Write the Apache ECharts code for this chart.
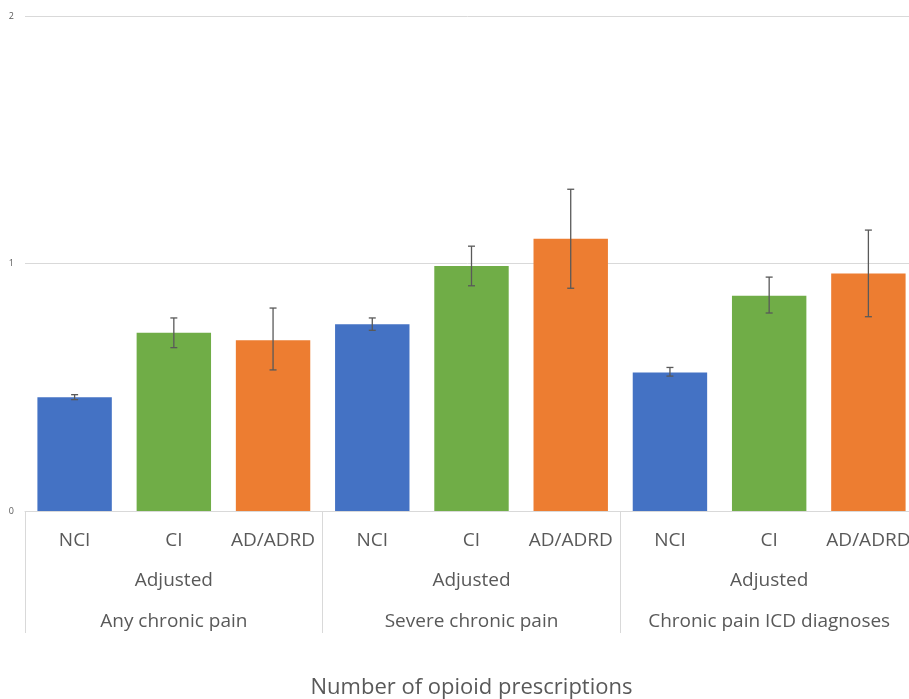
<!DOCTYPE html>
<html>
<head>
<meta charset="utf-8">
<script src="https://cdn.jsdelivr.net/npm/echarts@6/dist/echarts.min.js"></script>
<style>html,body{margin:0;padding:0;background:#fff}#c{width:909px;height:699px}</style>
</head>
<body>
<div id="c"></div>
<script>
const categories = ['NCI','CI','AD/ADRD','NCI','CI','AD/ADRD','NCI','CI','AD/ADRD'];
const groups = ['Any chronic pain','Severe chronic pain','Chronic pain ICD diagnoses'];
const subGroup = 'Adjusted';
const values = [0.46, 0.72, 0.69, 0.755, 0.99, 1.10, 0.56, 0.87, 0.96];
const lower  = [0.45, 0.66, 0.57, 0.73, 0.91, 0.90, 0.545, 0.80, 0.785];
const upper  = [0.47, 0.78, 0.82, 0.78, 1.07, 1.30, 0.58, 0.945, 1.135];
const yTicks = [0, 1, 2];
const colors = ['#4472C4', '#70AD47', '#ED7D31'];
const axisTitle = 'Number of opioid prescriptions';

const chart = echarts.init(document.getElementById('c'));
const font = '"Open Sans", sans-serif';
chart.setOption({
  animation: false,
  grid: {left: 25, right: -9, top: 16, bottom: 188, containLabel: false, outerBoundsMode: 'none'},
  xAxis: [{
    type: 'category', data: categories, position: 'bottom',
    axisLine: {show: true, lineStyle: {color: '#d9d9d9', width: 1}},
    axisTick: {show: false},
    axisLabel: {interval: 0, margin: 20, color: '#595959', fontSize: 19, fontFamily: font}
  }, {
    type: 'category', data: groups, position: 'bottom',
    axisLine: {show: false},
    axisTick: {show: true, interval: 0, length: 122, lineStyle: {color: '#d9d9d9'}},
    axisLabel: {interval: 0, margin: 49, color: '#595959', fontSize: 19, fontFamily: font,
      lineHeight: 41, formatter: v => subGroup + '\n' + v},
    name: axisTitle, nameLocation: 'middle', nameGap: 166,
    nameTextStyle: {color: '#595959', fontSize: 22, fontFamily: font}
  }],
  yAxis: {
    type: 'value', min: yTicks[0], max: yTicks[yTicks.length-1], interval: 1,
    axisLine: {show: false}, axisTick: {show: false},
    axisLabel: {color: '#595959', fontSize: 9, margin: 11, fontFamily: font},
    splitLine: {lineStyle: {color: '#d9d9d9', width: 1}}
  },
  series: [{
    type: 'bar', xAxisIndex: 0, barWidth: '75%',
    data: values.map((v, i) => ({value: v, itemStyle: {color: colors[i % 3]}}))
  }, {
    type: 'custom', xAxisIndex: 0, z: 10,
    data: values.map((v, i) => [i, lower[i], upper[i]]),
    renderItem: (params, api) => {
      const x = api.value(0);
      const lo = api.coord([x, api.value(1)]);
      const hi = api.coord([x, api.value(2)]);
      const cap = 3.5;
      const style = {stroke: '#595959', lineWidth: 1.3};
      return {type: 'group', children: [
        {type: 'line', shape: {x1: lo[0], y1: lo[1], x2: hi[0], y2: hi[1]}, style},
        {type: 'line', shape: {x1: lo[0]-cap, y1: lo[1], x2: lo[0]+cap, y2: lo[1]}, style},
        {type: 'line', shape: {x1: hi[0]-cap, y1: hi[1], x2: hi[0]+cap, y2: hi[1]}, style}
      ]};
    }
  }]
});
</script>
</body>
</html>
